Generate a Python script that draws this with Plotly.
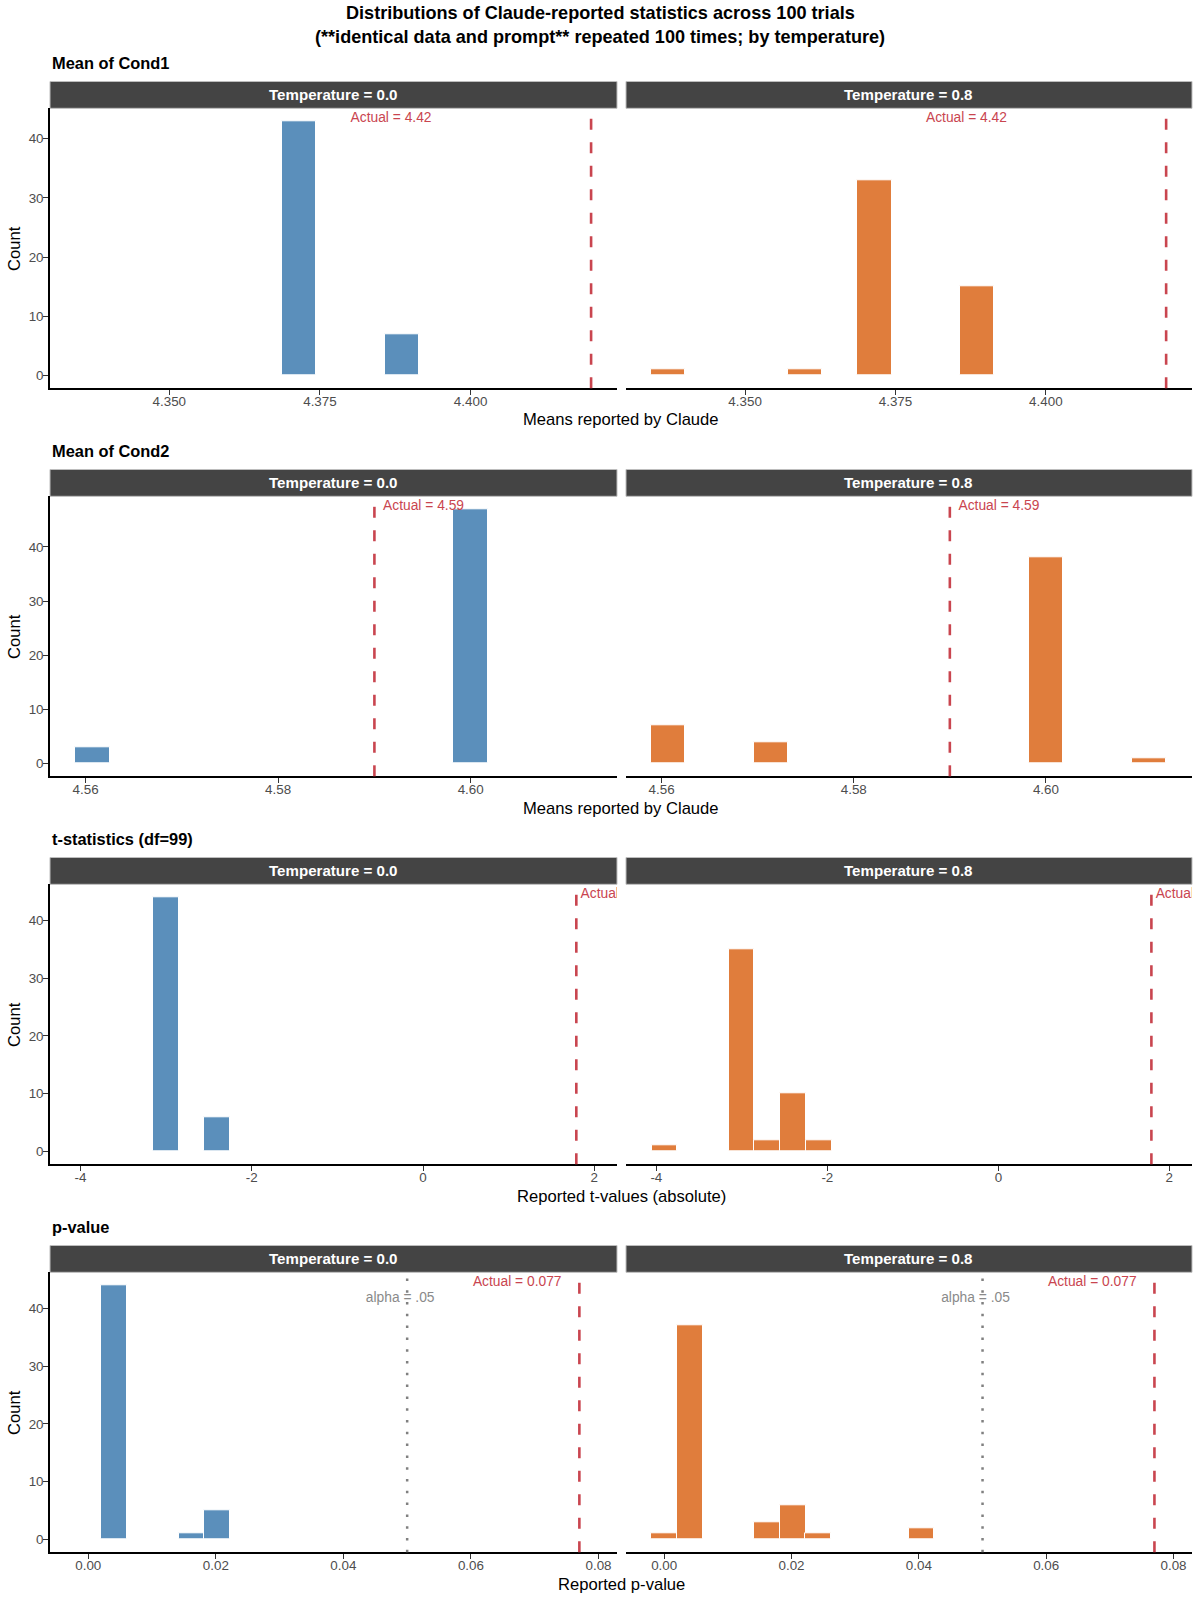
import plotly.graph_objects as go

W, H = 1200, 1600

temperatures = ["0.0", "0.8"]

# Mean of Cond1 (bin centres)
cond1_centers_t00 = [4.3715, 4.3886]
cond1_counts_t00 = [43, 7]
cond1_centers_t08 = [4.3372, 4.3600, 4.3715, 4.3886]
cond1_counts_t08 = [1, 1, 33, 15]
cond1_binwidth = 0.00571
cond1_actual = 4.42

# Mean of Cond2
cond2_centers_t00 = [4.5607, 4.6000]
cond2_counts_t00 = [3, 47]
cond2_centers_t08 = [4.5607, 4.5714, 4.6000, 4.6107]
cond2_counts_t08 = [7, 4, 38, 1]
cond2_binwidth = 0.00358
cond2_actual = 4.59

# t-statistics
t_centers_t00 = [-3.003, -2.402]
t_counts_t00 = [44, 6]
t_centers_t08 = [-3.905, -3.003, -2.703, -2.402, -2.101]
t_counts_t08 = [1, 35, 2, 10, 2]
t_binwidth = 0.301
t_actual = 1.79

# p-value
p_centers_t00 = [0.0040, 0.0162, 0.0202]
p_counts_t00 = [44, 1, 5]
p_centers_t08 = [0.0000, 0.0040, 0.0162, 0.0202, 0.0242, 0.0404]
p_counts_t08 = [1, 37, 3, 6, 1, 2]
p_binwidth = 0.00404
p_actual = 0.077
alpha = 0.05

y_ticks = [0, 10, 20, 30, 40]
cond1_ticks = [4.350, 4.375, 4.400]
cond1_ticklabels = ["4.350", "4.375", "4.400"]
cond2_ticks = [4.56, 4.58, 4.60]
cond2_ticklabels = ["4.56", "4.58", "4.60"]
t_ticks = [-4, -2, 0, 2]
t_ticklabels = ["-4", "-2", "0", "2"]
p_ticks = [0.00, 0.02, 0.04, 0.06, 0.08]
p_ticklabels = ["0.00", "0.02", "0.04", "0.06", "0.08"]

FONT = "Liberation Sans, Arial, Helvetica, sans-serif"
BAR_COLORS = ["#5B8FBB", "#E07D3C"]
RED = "#C9454F"
GRAY = "#808080"

rows = [
    dict(title="Mean of Cond1", xtitle="Means reported by Claude",
         data=[(cond1_centers_t00, cond1_counts_t00), (cond1_centers_t08, cond1_counts_t08)],
         width=cond1_binwidth, actual=cond1_actual, label="Actual = 4.42",
         xrange=[4.3302, 4.4243], ticks=cond1_ticks, ticktext=cond1_ticklabels,
         label_x=4.3868, label_pos="middle center"),
    dict(title="Mean of Cond2", xtitle="Means reported by Claude",
         data=[(cond2_centers_t00, cond2_counts_t00), (cond2_centers_t08, cond2_counts_t08)],
         width=cond2_binwidth, actual=cond2_actual, label="Actual = 4.59",
         xrange=[4.5563, 4.6152], ticks=cond2_ticks, ticktext=cond2_ticklabels,
         label_x=4.5909, label_pos="middle right"),
    dict(title="t-statistics (df=99)", xtitle="Reported t-values (absolute)",
         data=[(t_centers_t00, t_counts_t00), (t_centers_t08, t_counts_t08)],
         width=t_binwidth, actual=t_actual, label="Actual = 1.79",
         xrange=[-4.355, 2.265], ticks=t_ticks, ticktext=t_ticklabels,
         label_x=1.84, label_pos="middle right"),
    dict(title="p-value", xtitle="Reported p-value",
         data=[(p_centers_t00, p_counts_t00), (p_centers_t08, p_counts_t08)],
         width=p_binwidth, actual=p_actual, label="Actual = 0.077",
         xrange=[-0.0060, 0.0829], ticks=p_ticks, ticktext=p_ticklabels,
         label_x=0.0742, label_pos="middle left"),
]

# panel edges in pixels
col_px = [(50, 617), (626, 1192)]


def fx(p):
    return p / W


def fy(p):
    return 1 - p / H


fig = go.Figure()
layout = {}
shapes = []
annotations = []

for r, row in enumerate(rows):
    off = 388 * r
    strip_top, strip_bot = 81.5 + off, 108.3 + off
    plot_bot = 388.3 + off
    ymax = max(max(cnt) for _, cnt in row["data"])
    yrange = [-0.05 * ymax, 1.05 * ymax]

    # row subtitle
    annotations.append(dict(text=row["title"], x=fx(50), y=fy(63.3 + off), xref="paper", yref="paper",
                            xanchor="left", yanchor="middle", showarrow=False,
                            font=dict(family=FONT, size=16.4, color="black", weight="bold")))
    # x axis title
    annotations.append(dict(text=row["xtitle"], x=fx(621), y=fy(420 + off), xref="paper", yref="paper",
                            xanchor="center", yanchor="middle", showarrow=False,
                            font=dict(family=FONT, size=16.6, color="black")))
    # y axis title
    annotations.append(dict(text="Count", x=fx(14.6), y=fy((strip_bot + plot_bot) / 2), xref="paper",
                            yref="paper", xanchor="center", yanchor="middle", textangle=-90,
                            showarrow=False, font=dict(family=FONT, size=16.6, color="black")))

    for c, (centers, counts) in enumerate(row["data"]):
        n = r * 2 + c + 1
        xa = "x" if n == 1 else f"x{n}"
        ya = "y" if n == 1 else f"y{n}"
        xkey = "xaxis" if n == 1 else f"xaxis{n}"
        ykey = "yaxis" if n == 1 else f"yaxis{n}"
        x0p, x1p = col_px[c]

        fig.add_trace(go.Bar(x=centers, y=counts, width=row["width"], xaxis=xa, yaxis=ya,
                             marker=dict(color=BAR_COLORS[c], line=dict(color="white", width=1)),
                             showlegend=False, hoverinfo="x+y"))

        # red actual label, clipped to the panel like ggplot
        fig.add_trace(go.Scatter(x=[row["label_x"]], y=[ymax + 0.4], mode="text", text=[row["label"]],
                                 textposition=row["label_pos"], cliponaxis=True, xaxis=xa, yaxis=ya,
                                 textfont=dict(family=FONT, size=13.8, color=RED),
                                 showlegend=False, hoverinfo="skip"))
        if r == 3:
            fig.add_trace(go.Scatter(x=[0.0489], y=[ymax - 2.3], mode="text", text=["alpha = .05"],
                                     textposition="middle center", cliponaxis=True, xaxis=xa, yaxis=ya,
                                     textfont=dict(family=FONT, size=13.8, color="#8A8A8A"),
                                     showlegend=False, hoverinfo="skip"))
            shapes.append(dict(type="line", xref=xa, yref=f"{ya} domain", x0=alpha, x1=alpha, y0=0, y1=1,
                               line=dict(color=GRAY, width=2.5, dash="2.5px,9.3px")))

        shapes.append(dict(type="line", xref=xa, yref=f"{ya} domain", x0=row["actual"], x1=row["actual"],
                           y0=0, y1=1, line=dict(color=RED, width=2.6, dash="11px,12.5px")))

        # facet strip
        shapes.append(dict(type="rect", xref="paper", yref="paper", x0=fx(x0p), x1=fx(x1p),
                           y0=fy(strip_bot), y1=fy(strip_top), fillcolor="#444444",
                           line=dict(color="#BDBDBD", width=1), layer="below"))
        annotations.append(dict(text=f"Temperature = {temperatures[c]}", x=fx((x0p + x1p) / 2),
                                y=fy((strip_top + strip_bot) / 2), xref="paper", yref="paper",
                                xanchor="center", yanchor="middle", showarrow=False,
                                font=dict(family=FONT, size=15.1, color="white", weight="bold")))

        layout[xkey] = dict(domain=[fx(x0p), fx(x1p)], range=row["xrange"], anchor=ya,
                            tickvals=row["ticks"], ticktext=row["ticktext"],
                            showline=True, linecolor="black", linewidth=1.5, ticks="outside",
                            ticklen=5, tickwidth=1.2, tickcolor="#333333", ticklabelstandoff=-5,
                            tickfont=dict(family=FONT, size=13.4, color="#4D4D4D"),
                            showgrid=False, zeroline=False, fixedrange=True)
        yax = dict(domain=[fy(plot_bot), fy(strip_bot)], range=yrange, anchor=xa,
                   showgrid=False, zeroline=False, fixedrange=True)
        if c == 0:
            yax.update(tickvals=y_ticks, ticktext=[str(v) for v in y_ticks], showline=True,
                       linecolor="black", linewidth=1.5, ticks="outside", ticklen=5, tickwidth=1.2,
                       tickcolor="#333333", ticklabelstandoff=-3,
                       tickfont=dict(family=FONT, size=13.4, color="#4D4D4D"))
        else:
            yax.update(showticklabels=False, showline=False, ticks="")
        layout[ykey] = yax

# main title, centred on the whole page
annotations.append(dict(text="Distributions of Claude-reported statistics across 100 trials",
                        x=fx(600), y=fy(12.7), xref="paper", yref="paper", xanchor="center",
                        yanchor="middle", showarrow=False,
                        font=dict(family=FONT, size=18.1, color="black", weight="bold")))
annotations.append(dict(text="(**identical data and prompt** repeated 100 times; by temperature)",
                        x=fx(600), y=fy(37.3), xref="paper", yref="paper", xanchor="center",
                        yanchor="middle", showarrow=False,
                        font=dict(family=FONT, size=18.1, color="black", weight="bold")))

fig.update_layout(width=W, height=H, margin=dict(l=0, r=0, t=0, b=0),
                  paper_bgcolor="white", plot_bgcolor="white", bargap=0,
                  shapes=shapes, annotations=annotations, font=dict(family=FONT), **layout)

# drop the browser's default 8px body margin so the figure sits at the page corner
fig.write_html("out.html", config={"displayModeBar": False},
               post_script="document.body.style.margin='0';document.body.style.overflow='hidden';")
